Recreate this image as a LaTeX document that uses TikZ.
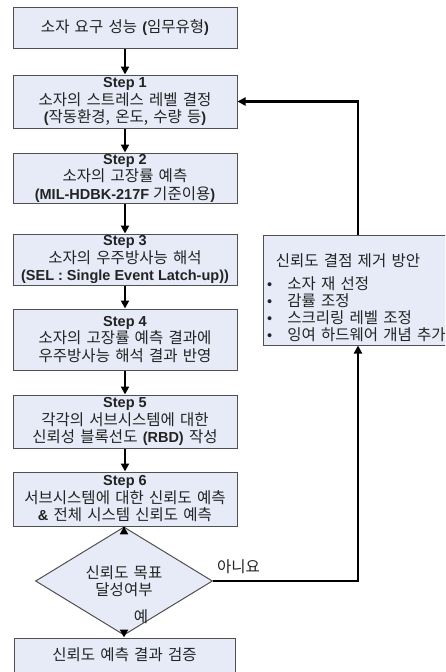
\documentclass[tikz,border=0pt]{standalone}
\usepackage{fontspec}
\setmainfont{Liberation Sans}
\newfontfamily\kr{Noto Sans CJK KR}[Scale=1.07,WordSpace=1.5]
\usetikzlibrary{shapes.geometric,arrows.meta}
\newcommand{\K}[1]{{\kr #1}}
\definecolor{boxfill}{RGB}{231,235,247}
\definecolor{boxline}{RGB}{80,80,80}
\definecolor{txt}{RGB}{35,35,35}
\tikzset{
  every node/.style={font=\fontsize{14.5}{17.5}\selectfont, text=txt},
  stepbox/.style={draw=boxline, fill=boxfill, line width=1pt, minimum width=224pt, align=center, inner sep=0pt},
  decision/.style={diamond, draw=boxline, fill=boxfill, line width=1pt, minimum width=177pt, minimum height=62pt, inner sep=0pt, align=center},
  arr/.style={line width=2.2pt, -{Triangle[length=8pt,width=8pt]}},
  lbl/.style={inner sep=0pt, align=left}
}
\begin{document}
\begin{tikzpicture}[x=1pt,y=-1pt]
\fill[white] (0,0) rectangle (445,672);
\useasboundingbox (0,0) rectangle (445,672);
\begin{scope}
\clip (0,0) rectangle (445,672);
\node[stepbox, minimum height=41pt] (b0) at (125,27.5) {\K{소자 요구 성능 }\textbf{(}\K{임무유형}\textbf{)}};
\node[stepbox, minimum height=53pt] (b1) at (125,101.5) {\textbf{Step 1}\\\K{소자의 스트레스 레벨 결정}\\\textbf{(}\K{작동환경, 온도, 수량 등}\textbf{)}};
\node[stepbox, minimum height=50pt] (b2) at (125,178) {\textbf{Step 2}\\\K{소자의 고장률 예측}\\\textbf{(MIL-HDBK-217F }\K{기준이용}\textbf{)}};
\node[stepbox, minimum height=51pt] (b3) at (125,259.5) {\textbf{Step 3}\\\K{소자의 우주방사능 해석}\\\textbf{(SEL : Single Event Latch-up))}};
\node[stepbox, minimum height=61pt] (b4) at (125,339.5) {\textbf{Step 4}\\\K{소자의 고장률 예측 결과에}\\\K{우주방사능 해석 결과 반영}};
\node[stepbox, minimum height=53pt] (b5) at (125,421.5) {\textbf{Step 5}\\\K{각각의 서브시스템에 대한}\\\K{신뢰성 블록선도 }\textbf{(RBD)}\K{ 작성}};
\node[stepbox, minimum height=54pt] (b6) at (125,499) {\textbf{Step 6}\\\K{서브시스템에 대한 신뢰도 예측}\\\textbf{\&}\K{ 전체 시스템 신뢰도 예측}};
\node[decision] (dia) at (124,581) {\K{신뢰도 목표}\\\K{달성여부}};
\node[stepbox, minimum width=221pt, minimum height=60pt] (fin) at (124.5,668) {};
\node[inner sep=0pt] (fintxt) at (124.5,655) {\K{신뢰도 예측 결과 검증}};
\node[draw=boxline, fill=boxfill, line width=1pt, minimum width=190pt, minimum height=110pt, inner sep=0pt] (rb) at (358,290) {};
\node[lbl] (rbt) at (348,261) {\K{신뢰도 결점 제거 방안}};
\node[lbl, anchor=west] (r1) at (267,284) {•\hspace{15pt}\K{소자 재 선정}};
\node[lbl, anchor=west] (r2) at (267,301) {•\hspace{15pt}\K{감률 조정}};
\node[lbl, anchor=west] (r3) at (267,318) {•\hspace{15pt}\K{스크리링 레벨 조정}};
\node[lbl, anchor=west] (r4) at (267,335) {•\hspace{15pt}\K{잉여 하드웨어 개념 추가}};
\draw[arr] (b0) -- (b1);
\draw[arr] (b1) -- (b2);
\draw[arr] (b2) -- (b3);
\draw[arr] (b3) -- (b4);
\draw[arr] (b4) -- (b5);
\draw[arr] (b5) -- (b6);
\draw[arr] (b6.south -| dia.north) -- (dia.north);
\draw[arr] (dia.south) -- (dia.south |- fin.north);
\draw[arr] (dia.east) -| (rb.south);
\draw[arr] (rb.north) |- (b1.east);
\node[inner sep=0pt, anchor=west] (no) at (217,567) {\K{아니요}};
\node[inner sep=0pt] (yes) at (141,617) {\K{예}};
\end{scope}
\end{tikzpicture}
\end{document}
